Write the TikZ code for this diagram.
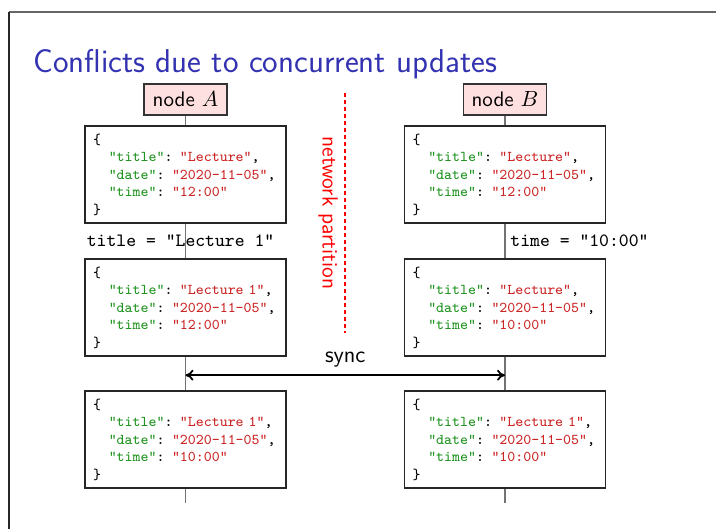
\documentclass[tikz,border=0pt]{standalone}
\usepackage{xcolor}
\usetikzlibrary{arrows.meta,calc}

\definecolor{slideblue}{rgb}{0.2,0.2,0.7}
\definecolor{jsonkey}{rgb}{0.13,0.58,0.13}
\definecolor{jsonval}{rgb}{0.8,0.15,0.15}
\newcommand{\jkey}[1]{\textcolor{jsonkey}{"#1"}}
\newcommand{\jval}[1]{\textcolor{jsonval}{"#1"}}
\newcommand{\jdoc}[2]{\{\\\hspace*{1.05em}\jkey{title}: \jval{#1},\\\hspace*{1.05em}\jkey{date}: \jval{2020-11-05},\\\hspace*{1.05em}\jkey{time}: \jval{#2}\\\}}

\begin{document}
\begin{tikzpicture}[x=0.5pt, y=-0.5pt,
  sans/.style={font=\sffamily\fontsize{10.5}{12}\selectfont},
  peer/.style={sans, draw=black!80, fill=red!12, line width=0.6pt, minimum width=41.5pt, minimum height=15.5pt, inner sep=2pt},
  doc/.style={draw=black!85, fill=white, line width=0.6pt, align=left, text width=92.5pt, inner xsep=4pt, inner ysep=0pt, minimum height=48.5pt, font=\ttfamily\fontsize{7.5}{8.75}\selectfont},
  upd/.style={font=\ttfamily\fontsize{9.4}{10}\selectfont},
  timeline/.style={draw=black!55, line width=0.8pt},
  >={Computer Modern Rightarrow[length=4pt,width=5.5pt]}]
  \useasboundingbox (0,0) rectangle (716,529);
  \draw[black!60, line width=1pt] (9,12) -- (716,12);
  \draw[black!85, line width=1pt] (9,12) -- (9,529);
  \node[anchor=base west, text=slideblue, font=\sffamily\fontsize{16.5}{19}\selectfont, inner sep=0pt] (title) at (33,73) {Conflicts due to concurrent updates};
  \node[peer] (na) at (185.5,99.5) {node $A$};
  \node[peer] (nb) at (505,99.5) {node $B$};
  \coordinate (ea) at (185.5,503);
  \coordinate (eb) at (505,503);
  \draw[timeline] (na) -- (ea);
  \draw[timeline] (nb) -- (eb);
  \foreach \r/\y/\ta/\ua/\tb/\ub in {1/174.5/Lecture/12:00/Lecture/12:00,
      2/307.5/{Lecture 1}/12:00/Lecture/10:00,
      3/439.5/{Lecture 1}/10:00/{Lecture 1}/10:00}{
    \node[doc] (a\r) at (185.5,\y) {\jdoc{\ta}{\ua}};
    \node[doc] (b\r) at (505,\y) {\jdoc{\tb}{\ub}};
  }
  \node[upd, anchor=west, inner sep=1pt] (ua) at ($(a1.south west)!.5!(a2.north west)$) {title = "Lecture 1"};
  \node[upd, anchor=west, inner sep=2.5pt] (ub) at ($(b1.south)!.5!(b2.north)$) {time = "10:00"};
  \coordinate (sa) at ($(a2.south)!.55!(a3.north)$);
  \coordinate (sb) at ($(b2.south)!.55!(b3.north)$);
  \draw[<->, line width=0.9pt] (sa) -- node[sans, font=\sffamily\fontsize{11.5}{13}\selectfont, above] (sync) {sync} (sb);
  \coordinate (pt) at (345,93);
  \coordinate (pb) at (345,333);
  \draw[red, line width=1.2pt, dash pattern=on 2pt off 1.5pt] (pt) -- (pb);
  \node[sans, font=\sffamily\fontsize{11}{13}\selectfont, text=red, rotate=-90, anchor=north] (np) at ($(pt)!.5!(pb)$) {network partition};
\end{tikzpicture}
\end{document}
